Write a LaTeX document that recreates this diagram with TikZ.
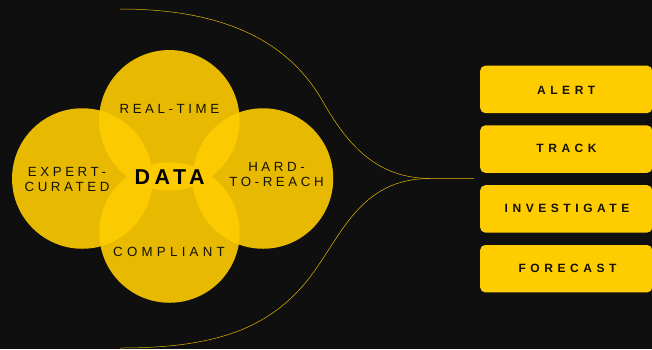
\documentclass[tikz,border=0pt]{standalone}
\usepackage{fontspec}
\setmainfont{Liberation Sans}
\newfontfamily\lblfont[LetterSpace=27]{Liberation Sans}
\newfontfamily\widefont[LetterSpace=32]{Liberation Sans}
\newfontfamily\boxfont[LetterSpace=38]{Liberation Sans Bold}
\newfontfamily\datafont[LetterSpace=21]{Liberation Sans Bold}
\definecolor{bgc}{HTML}{0F0F0F}
\definecolor{yel}{HTML}{FFCC00}
\definecolor{ink}{HTML}{141200}
\tikzset{
  circ/.style={circle,fill=yel,fill opacity=0.9,minimum size=140.5pt,inner sep=0pt},
  lbl/.style={text=ink,font=\fontsize{13.3}{15}\lblfont,align=center,inner sep=0pt},
  boxn/.style={rectangle,rounded corners=5pt,fill=yel,minimum width=172pt,minimum height=47.4pt,inner sep=0pt},
  boxt/.style={text=ink,font=\fontsize{12}{14}\boxfont,inner sep=0pt},
  curve/.style={draw=yel!90!black,line width=0.5pt}
}
\begin{document}
\begin{tikzpicture}[x=1pt,y=-1pt]
\path[fill=bgc] (0,0) rectangle (652,349);
\useasboundingbox (0,0) rectangle (652,349);
\node[circ] (ct) at (169.3,120.3) {};
\node[circ] (cl) at (82.3,178.5) {};
\node[circ] (cr) at (263,178.5) {};
\node[circ] (cb) at (169.5,232.5) {};
\coordinate (s1) at (120,9);
\coordinate (s2) at (120,348);
\coordinate (e) at (474,178.5);
\draw[curve] (s1) .. controls (230,9) and (290,45) .. (322,100) .. controls (350,150) and (380,178) .. (430,178.5) -- (e);
\draw[curve] (s2) .. controls (215,348) and (270,329) .. (310,277) .. controls (342,235) and (360,178.5) .. (430,178.5);
\node[lbl] (t1) at (169.4,109) {REAL-TIME};
\node[lbl] (t2) at (67,179.2) {EXPERT-\\CURATED};
\node[lbl] (t3) at (276.5,174.2) {HARD-\\TO-REACH};
\node[lbl,font=\fontsize{13.3}{15}\widefont] (t4) at (169,251.7) {COMPLIANT};
\node[text=black,font=\fontsize{21.5}{24}\datafont,inner sep=0pt] (d) at (169.7,176.7) {DATA};
\node[boxn,anchor=north west] (b1) at (480,65.5) {};
\node[boxn,anchor=north west] (b2) at (480,125.2) {};
\node[boxn,anchor=north west] (b3) at (480,185) {};
\node[boxn,anchor=north west] (b4) at (480,244.8) {};
\node[boxt] (l1) at (566.2,90.7) {ALERT};
\node[boxt] (l2) at (566.5,148.7) {TRACK};
\node[boxt] (l3) at (567,208.7) {INVESTIGATE};
\node[boxt] (l4) at (567.5,268.3) {FORECAST};
\end{tikzpicture}
\end{document}
